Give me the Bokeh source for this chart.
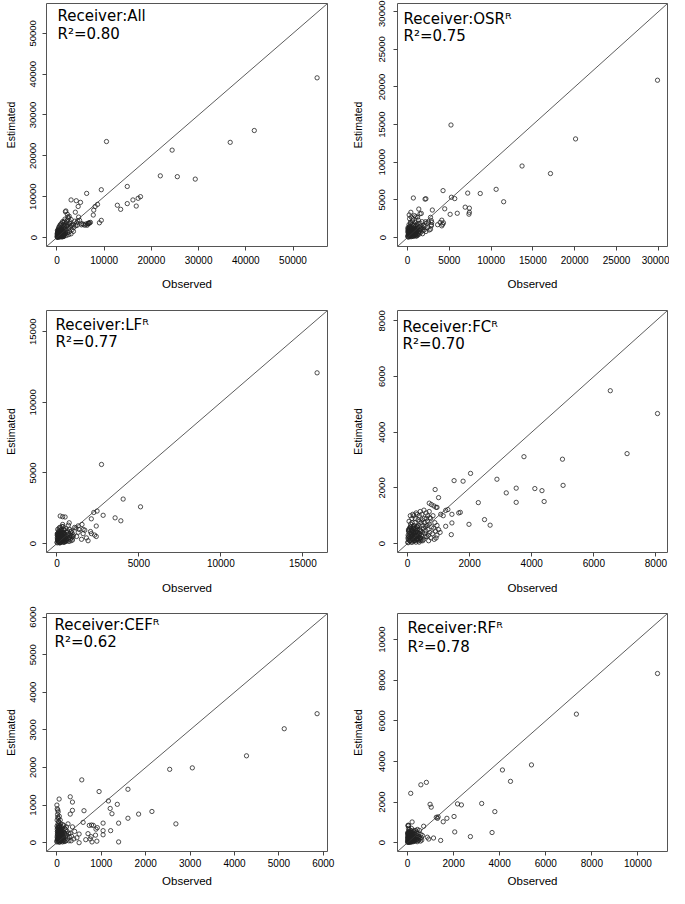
from bokeh.plotting import figure
from bokeh.models import FixedTicker, BasicTickFormatter, Slope, Label
from bokeh.layouts import column, row
from bokeh.embed import file_html
from bokeh.resources import INLINE

# ---------------- data ----------------
panel_names = ["All", "OSR\u1D3F", "LF\u1D3F", "FC\u1D3F", "CEF\u1D3F", "RF\u1D3F"]
r2_values = ["0.80", "0.75", "0.77", "0.70", "0.62", "0.78"]

ticks_all = [0, 10000, 20000, 30000, 40000, 50000]
ticks_osr = [0, 5000, 10000, 15000, 20000, 25000, 30000]
ticks_lf = [0, 5000, 10000, 15000]
ticks_fc = [0, 2000, 4000, 6000, 8000]
ticks_cef = [0, 1000, 2000, 3000, 4000, 5000, 6000]
ticks_rf = [0, 2000, 4000, 6000, 8000, 10000]

obs_all = [55100, 41800, 36700, 24400, 10500, 21900, 25500, 29300, 14900, 9400, 6300, 3000, 4100, 5000,
           4500, 8600, 8100, 7800, 7700, 17700, 17200, 16100, 14900, 12800, 13500, 16800, 9400, 9000,
           1800, 2200, 2500, 3900, 4600, 5300, 5900, 6400, 6700, 7100, 6900, 6800, 6600, 6500,
           100, 150, 200, 250, 300, 350, 400, 450, 500, 550, 600, 650, 700, 750, 800, 850, 900, 950,
           1000, 1050, 1100, 1150, 1200, 1250, 1300, 1350, 1400, 1450, 1500, 1550, 1600, 1650, 1700,
           1750, 1800, 1850, 1900, 1950, 2000, 2100, 2200, 2300, 2400, 2500, 2600, 2700, 2800, 2900,
           3000, 3200, 3400, 3600, 3800, 4000, 4200, 4400, 2300, 1700, 1300, 800, 500, 300, 200, 120,
           60, 400, 700, 1000, 1500, 2000, 2500, 3000, 3500, 1200, 900, 600, 1800, 2200, 2700, 3100,
           4300, 4800, 5200, 5600, 6100]
est_all = [39100, 26200, 23300, 21400, 23500, 15100, 14900, 14300, 12500, 11700, 10800, 9200, 9000, 8600,
           7600, 8100, 7600, 6700, 5500, 10000, 9600, 9200, 8300, 7900, 6900, 7700, 4200, 3600,
           6300, 5700, 4800, 6200, 5000, 3400, 3000, 3000, 3400, 3700, 3600, 3500, 3500, 3300,
           200, 900, 1500, 400, 2100, 800, 1200, 2600, 300, 1800, 700, 3000, 1100, 2200, 400, 1600, 3400, 900,
           2000, 500, 2800, 1300, 3900, 700, 2400, 1700, 3200, 1000, 2000, 600, 4000, 2600, 1400,
           3000, 2200, 900, 6500, 3600, 1700, 2900, 4200, 1200, 3300, 2200, 5200, 1500, 3800, 2600,
           4400, 1900, 3100, 2500, 4000, 2900, 3600, 4100, 5000, 4500, 3700, 3100, 2500, 1300, 600, 100,
           50, 100, 150, 250, 300, 500, 700, 900, 1500, 200, 1800, 1400, 1100, 2700, 3400, 3000,
           3000, 4200, 3100, 3200, 3300]
obs_all_core = [50, 80, 120, 160, 200, 240, 280, 320, 360, 400, 450, 500, 550, 600, 650, 700, 750, 800,
                850, 900, 950, 1000, 1050, 1100, 1150, 1200, 1250, 1300, 1350, 1400, 1450, 1500, 70, 130,
                190, 260, 330, 410, 480, 560, 640, 720, 810, 900, 990]
est_all_core = [400, 1000, 1700, 250, 800, 1400, 1900, 600, 1100, 300, 1600, 900, 200, 1300, 700, 1800,
                450, 1050, 1500, 350, 850, 1250, 150, 650, 1950, 1100, 500, 900, 1500, 250, 1200, 700,
                750, 1300, 100, 1100, 1650, 550, 1000, 1750, 400, 850, 1350, 600, 1550]

obs_osr = [29900, 20100, 17100, 13700, 10600, 11500, 8700, 7200, 5200, 4250, 5250, 5650, 4450, 6900,
           7400, 7400, 7350, 5950, 5100, 4300, 4200, 4100, 2970, 700, 2100, 2200, 1350, 400, 200, 1500,
           1650, 2750, 2850, 2850, 2750, 1850, 850, 1000, 1200, 2150, 2500, 2900, 4100, 3900, 3600, 2850,
           50, 100, 150, 200, 250, 300, 350, 400, 450, 500, 550, 600, 650, 700, 750, 800, 850, 900, 950,
           1000, 1050, 1100, 1150, 1200, 1250, 1300, 1350, 1400, 1450, 1500, 1600, 1700, 1800, 1900,
           2000, 2100, 2200, 2300, 2400, 2600, 120, 200, 300, 400, 500, 600, 700, 800, 900, 1000, 1100,
           1200, 1300, 1400, 1600, 1750, 250, 350, 450, 550, 650, 750, 150, 80, 60, 180, 950, 1250,
           1550, 1850]
est_osr = [20900, 13100, 8500, 9500, 6400, 4750, 5850, 5900, 14950, 6230, 5350, 5170, 3810, 4030,
           3900, 3350, 3100, 3220, 3080, 1950, 1750, 1550, 3650, 5250, 5100, 5150, 3780, 3350, 3000, 3150,
           3200, 2680, 2240, 1550, 1100, 1290, 2900, 2750, 2700, 2100, 2050, 2000, 2300, 2000, 1700, 1700,
           100, 600, 1100, 300, 1500, 800, 200, 1900, 500, 1200, 900, 2200, 400, 1600, 1000, 250, 1400,
           700, 2000, 450, 1200, 850, 1700, 300, 1000, 2300, 600, 1400, 900, 1900, 700, 1200, 500, 1600,
           1000, 1500, 800, 1900, 1300, 1000, 50, 900, 1300, 650, 150, 1000, 350, 1800, 1150, 1600, 200,
           1300, 750, 450, 1500, 2100, 2500, 2000, 2700, 1750, 2500, 600, 400, 800, 1300, 1700, 350, 1900,
           1100, 900]
obs_osr_core = [30, 60, 90, 120, 150, 180, 210, 240, 270, 300, 340, 380, 420, 460, 500, 540, 580, 620,
                660, 700, 740, 780, 820, 860, 900, 950, 1000, 1050, 1100, 1150, 45, 105, 165, 225, 285,
                355, 425, 495, 565, 635, 705, 775, 845, 915, 985]
est_osr_core = [200, 700, 1200, 450, 900, 150, 1400, 600, 1050, 300, 800, 1300, 100, 550, 1000, 350,
                1250, 700, 200, 900, 500, 1150, 300, 750, 1000, 450, 200, 650, 900, 400, 1000, 350, 800,
                1300, 550, 250, 1100, 700, 450, 950, 150, 600, 1050, 300, 700]

obs_lf = [15870, 2720, 4040, 5100, 2820, 3550, 3900, 2450, 2250, 2100, 1530, 1160, 200, 350, 500, 750,
          1080, 1300, 1350, 2400, 2100, 2300, 1700, 1800, 1600, 1500, 1900, 1600, 2050, 2400, 1200, 1300,
          1000, 900,
          20, 40, 60, 80, 100, 120, 140, 160, 180, 200, 220, 240, 260, 280, 300, 320, 340, 360, 380, 400,
          420, 440, 460, 480, 500, 520, 540, 560, 580, 600, 620, 640, 660, 680, 700, 720, 740, 760, 780,
          800, 820, 840, 860, 880, 900, 920, 950, 980, 30, 50, 70, 90, 110, 130, 150, 170, 190, 210,
          230, 250, 270, 290, 310, 330, 350, 370, 390, 410, 430, 450]
est_lf = [12090, 5600, 3150, 2600, 2000, 1820, 1610, 2300, 2200, 1750, 1350, 1100, 1950, 1900, 1880, 1470,
          1140, 1250, 1000, 1240, 700, 600, 950, 400, 1000, 300, 200, 700, 850, 500, 500, 800,
          600, 900,
          50, 300, 600, 150, 900, 400, 1100, 250, 700, 50, 500, 850, 200, 1000, 600, 350, 800, 100, 1200,
          500, 750, 300, 950, 150, 650, 400, 1050, 250, 800, 500, 200, 900, 600, 350, 1300, 700, 150, 450,
          1000, 300, 600, 850, 200, 550, 400, 750, 250, 500, 700, 1000, 450, 200, 750, 550, 850, 100, 1150,
          300, 650, 950, 450, 150, 1200, 550, 1350, 750, 250, 1000, 650, 100]
obs_lf_core = [10, 25, 40, 55, 70, 85, 100, 115, 130, 145, 160, 175, 190, 205, 220, 235, 250, 265, 280,
               295, 310, 330, 350, 370, 390, 410, 430, 450, 470, 490, 520, 550, 580, 15, 45, 75, 105, 135,
               165, 195, 225, 255, 285, 315, 345]
est_lf_core = [100, 400, 700, 250, 550, 150, 650, 350, 800, 50, 450, 200, 600, 300, 750, 100, 500, 250,
               650, 400, 150, 550, 300, 700, 200, 450, 100, 350, 600, 250, 400, 150, 300, 600, 300, 500,
               200, 700, 400, 100, 550, 300, 750, 450, 200]

obs_fc = [6530, 8050, 7070, 4990, 5010, 3750, 3500, 3500, 4100, 4330, 4400, 3180, 2880, 2280, 2030, 1790,
          1500, 2480, 2660, 1980, 1430, 1410, 1230, 890, 1000, 1430, 1650, 1700, 1300, 1230, 920, 700,
          770, 850, 950, 1070, 1000, 1050, 950, 700, 720, 1150,
          20, 40, 60, 80, 100, 120, 140, 160, 180, 200, 220, 240, 260, 280, 300, 320, 340, 360, 380, 400,
          420, 440, 460, 480, 500, 520, 540, 560, 580, 600, 620, 640, 660, 680, 700, 720, 740, 760, 780,
          800, 820, 840, 860, 880, 900, 920, 950, 30, 50, 70, 90, 110, 130, 150, 170, 190, 210, 230, 250,
          270, 290, 310, 330, 350, 370, 390, 410, 430, 450, 470, 490, 510, 530, 550, 570, 590, 610, 630,
          650, 670]
est_fc = [5490, 4670, 3230, 3030, 2090, 3120, 1990, 1480, 1975, 1900, 1510, 1820, 2310, 1470, 2520, 2240,
          2260, 860, 660, 690, 740, 320, 620, 1940, 1650, 1050, 1100, 1120, 1220, 1190, 1300, 1450,
          1400, 1350, 1300, 1050, 500, 400, 300, 1150, 930, 1000,
          30, 250, 500, 100, 700, 350, 900, 150, 550, 1000, 250, 750, 400, 1100, 150, 600, 850, 300, 1000,
          500, 200, 750, 1050, 400, 650, 150, 900, 350, 600, 1100, 250, 800, 500, 100, 700, 400, 900, 200,
          600, 350, 1000, 550, 150, 750, 450, 200, 650, 450, 800, 200, 1000, 550, 300, 750, 1050, 400, 650,
          100, 900, 550, 300, 1050, 400, 650, 150, 800, 1150, 450, 300, 850, 100, 550, 1200, 750, 250, 450,
          900, 650, 1000, 300]
obs_fc_core = [10, 20, 30, 40, 50, 60, 70, 80, 90, 100, 110, 120, 130, 140, 150, 160, 170, 180, 190, 200,
               210, 220, 230, 240, 250, 260, 270, 280, 290, 300, 310, 320, 340, 360, 380, 400, 420, 440,
               15, 35, 55, 75, 95, 115, 135, 155, 175, 195, 215, 235, 255, 275, 295, 315, 335, 355, 375,
               395, 415, 435]
est_fc_core = [50, 300, 150, 450, 250, 550, 100, 400, 200, 600, 350, 50, 500, 250, 150, 450, 300, 600,
               100, 400, 200, 550, 350, 150, 500, 250, 50, 450, 300, 150, 400, 600, 250, 100, 350, 200,
               450, 150, 200, 500, 350, 100, 600, 250, 450, 50, 350, 550, 200, 100, 400, 300, 600, 150,
               500, 250, 50, 350, 200, 100]

obs_cef = [5860, 5120, 4270, 3050, 2540, 2140, 1840, 1600, 1600, 2680, 1390, 1390, 1360, 1160, 1200, 1240,
           1210, 1040, 1040, 1040, 950, 560, 610, 590, 730, 780, 820, 910, 870, 900, 770, 790, 300, 350,
           350, 300, 50, 0, 20, 500, 880, 700, 650, 750, 500, 450, 400, 330,
           0, 10, 20, 5, 15, 30, 40, 25, 35, 50, 60, 45, 55, 70, 80, 65, 75, 90, 100, 85, 95, 110, 120,
           130, 140, 150, 160, 170, 180, 190, 200, 210, 220, 230, 240, 250, 260, 270, 280, 12, 22, 32, 42,
           52, 62, 72, 82, 92, 8, 18, 28, 38, 48, 58, 68, 78, 88, 102, 112, 125, 135, 145, 155, 175, 195,
           215, 300, 320, 350, 380]
est_cef = [3430, 3030, 2310, 1990, 1950, 830, 760, 1420, 650, 500, 520, 20, 1020, 1110, 910, 770,
           320, 520, 320, 210, 1360, 1670, 850, 540, 460, 470, 460, 400, 200, 40, 160, 20, 1220, 1080,
           860, 760, 1160, 1000, 870, 0, 360, 240, 80, 100, 230, 130, 300, 170,
           50, 200, 400, 600, 750, 100, 300, 500, 650, 150, 350, 550, 700, 50, 250, 450, 600, 100, 300,
           500, 150, 250, 50, 350, 150, 450, 80, 250, 30, 150, 350, 60, 200, 300, 100, 500, 250, 50, 150,
           100, 300, 450, 200, 80, 250, 180, 380, 50, 900, 680, 820, 560, 420, 30, 120, 330, 230, 420, 130,
           220, 480, 280, 40, 380, 230, 420, 250, 50, 420, 100]
obs_cef_core = [0, 5, 10, 15, 20, 25, 30, 35, 40, 45, 50, 55, 60, 65, 70, 75, 80, 85, 90, 95, 100, 105,
                110, 115, 120, 125, 130, 135, 140, 145, 150, 3, 8, 13, 18, 23, 28, 33, 38, 43, 48, 53, 58,
                63, 68]
est_cef_core = [20, 150, 300, 80, 220, 400, 50, 180, 350, 120, 260, 10, 420, 200, 90, 330, 150, 40, 280,
                190, 100, 360, 60, 230, 140, 20, 300, 110, 200, 60, 150, 440, 360, 250, 130, 30, 310, 210,
                100, 380, 270, 170, 60, 330, 240]

obs_rf = [10850, 7330, 5380, 4120, 4470, 3220, 3790, 3670, 2730, 2050, 2020, 2170, 2340, 1710, 1550, 1300,
          1250, 1330, 1440, 1130, 980, 1030, 820, 580, 140, 860, 920, 700, 200, 30, 20, 50,
          10, 20, 30, 40, 50, 60, 70, 80, 90, 100, 110, 120, 130, 140, 150, 160, 170, 180, 190, 200, 220,
          240, 260, 280, 300, 320, 340, 360, 380, 400, 420, 440, 460, 480, 500, 520, 540, 560, 580, 600,
          620, 650, 15, 25, 35, 45, 55, 65, 75, 85, 95, 105, 115, 125, 135, 145, 155, 175, 195, 210, 230,
          250, 270, 290, 310, 330, 350, 370, 390, 410, 430, 450, 470]
est_rf = [8330, 6330, 3830, 3580, 3020, 1930, 1530, 500, 300, 530, 1290, 1910, 1860, 1200, 1030, 1200,
          1250, 1270, 110, 230, 1890, 1750, 2970, 2850, 2430, 270, 180, 810, 1020, 860, 830, 850,
          20, 150, 350, 550, 80, 250, 450, 650, 120, 300, 500, 30, 200, 400, 600, 100, 280, 480, 60, 200,
          350, 100, 550, 250, 420, 80, 300, 600, 150, 350, 50, 250, 450, 120, 300, 600, 200, 80, 400, 250,
          130, 350, 450, 250, 100, 700, 380, 180, 320, 30, 560, 220, 380, 90, 290, 520, 180, 700, 330, 500,
          180, 400, 90, 600, 200, 480, 130, 260, 520, 180, 650, 120, 300]
obs_rf_core = [5, 10, 15, 20, 25, 30, 35, 40, 45, 50, 55, 60, 70, 80, 90, 100, 110, 120, 130, 140, 150,
               160, 170, 180, 190, 200, 210, 220, 230, 240, 250, 260, 280, 300, 8, 18, 28, 38, 48, 58, 68,
               78, 88, 98, 108]
est_rf_core = [40, 200, 350, 100, 450, 250, 60, 300, 150, 400, 500, 30, 220, 120, 380, 280, 60, 180, 450,
               320, 100, 250, 30, 400, 150, 230, 80, 350, 120, 280, 50, 200, 150, 100, 480, 260, 130, 380,
               20, 300, 170, 430, 80, 240, 350]

panels = [
    (obs_all + obs_all_core, est_all + est_all_core, ticks_all),
    (obs_osr + obs_osr_core, est_osr + est_osr_core, ticks_osr),
    (obs_lf + obs_lf_core, est_lf + est_lf_core, ticks_lf),
    (obs_fc + obs_fc_core, est_fc + est_fc_core, ticks_fc),
    (obs_cef + obs_cef_core, est_cef + est_cef_core, ticks_cef),
    (obs_rf + obs_rf_core, est_rf + est_rf_core, ticks_rf),
]

# ---------------- layout ----------------
# column geometry: (fig width, border left, frame width, border right, ytick standoff, ylabel standoff)
col_geo = [(345, 46, 281, 18, 6, 11), (324, 52, 270, 2, 8, 13)]
# row geometry: (border top, frame height, border bottom, xtick standoff, xlabel standoff)
row_geo = [(3, 243, 52, 5, 11), (12, 242, 44, 2, 12), (17, 238, 37, 3, 5)]
# label offsets in pixels from frame left / top for each panel: (dx, dy1, dy2)
label_off = [(11, 12, 30), (6, 15, 32), (9, 14, 31), (5, 16, 33), (8, 11, 28), (10, 14, 33)]

TEXT = "#000000"
AXIS_FONT = "Liberation Sans"


def make_panel(i):
    obs, est, ticks = panels[i]
    r, c = divmod(i, 2)
    fw, bl, frw, br, ystand, ylstand = col_geo[c]
    bt, frh, bb, xstand, xlstand = row_geo[r]
    m = max(max(obs), max(est))
    lo, hi = -0.04 * m, 1.04 * m
    p = figure(width=fw, height=bt + frh + bb, frame_width=frw, frame_height=frh,
               x_range=(lo, hi), y_range=(lo, hi),
               min_border_left=bl, min_border_right=br, min_border_top=bt, min_border_bottom=bb,
               output_backend="svg", toolbar_location=None, tools="",
               background_fill_color="white", border_fill_color="white")
    p.grid.visible = False
    p.outline_line_color = "#555555"
    p.outline_line_width = 1
    for ax in (p.xaxis[0], p.yaxis[0]):
        ax.ticker = FixedTicker(ticks=ticks)
        ax.formatter = BasicTickFormatter(use_scientific=False)
        ax.axis_line_color = None
        ax.major_tick_line_color = "#444444"
        ax.major_tick_out = 4
        ax.major_tick_in = 0
        ax.minor_tick_line_color = None
        ax.major_label_text_font = AXIS_FONT
        ax.major_label_text_color = TEXT
        ax.axis_label_text_font = AXIS_FONT
        ax.axis_label_text_font_style = "normal"
        ax.axis_label_text_color = TEXT
    p.xaxis.axis_label = "Observed"
    p.xaxis.major_label_text_font_size = "10px"
    p.xaxis.axis_label_text_font_size = "11.5px"
    p.xaxis.major_label_standoff = xstand
    p.xaxis.axis_label_standoff = xlstand
    p.yaxis.axis_label = "Estimated"
    p.yaxis.major_label_text_font_size = "9.5px"
    p.yaxis.axis_label_text_font_size = "10.5px"
    p.yaxis.major_label_orientation = "vertical"
    p.yaxis.major_label_standoff = ystand
    p.yaxis.axis_label_standoff = ylstand

    p.add_layout(Slope(gradient=1, y_intercept=0, line_color="#333333", line_width=0.8))
    p.scatter(obs, est, marker="circle", size=4.3, fill_color=None,
              line_color="#222222", line_width=0.8)

    dx, dy1, dy2 = label_off[i]
    span = hi - lo
    lx = lo + dx / frw * span
    p.add_layout(Label(x=lx, y=hi - dy1 / frh * span, text="Receiver:" + panel_names[i],
                       text_font="DejaVu Sans", text_font_size="15px", text_color=TEXT,
                       text_align="left", text_baseline="middle"))
    p.add_layout(Label(x=lx, y=hi - dy2 / frh * span, text="R\u00b2=" + r2_values[i],
                       text_font="DejaVu Sans", text_font_size="15px", text_color=TEXT,
                       text_align="left", text_baseline="middle"))
    return p


figs = [make_panel(i) for i in range(6)]
layout = column(row(figs[0], figs[1]), row(figs[2], figs[3]), row(figs[4], figs[5]))

open("out.html", "w").write(file_html(layout, INLINE))
